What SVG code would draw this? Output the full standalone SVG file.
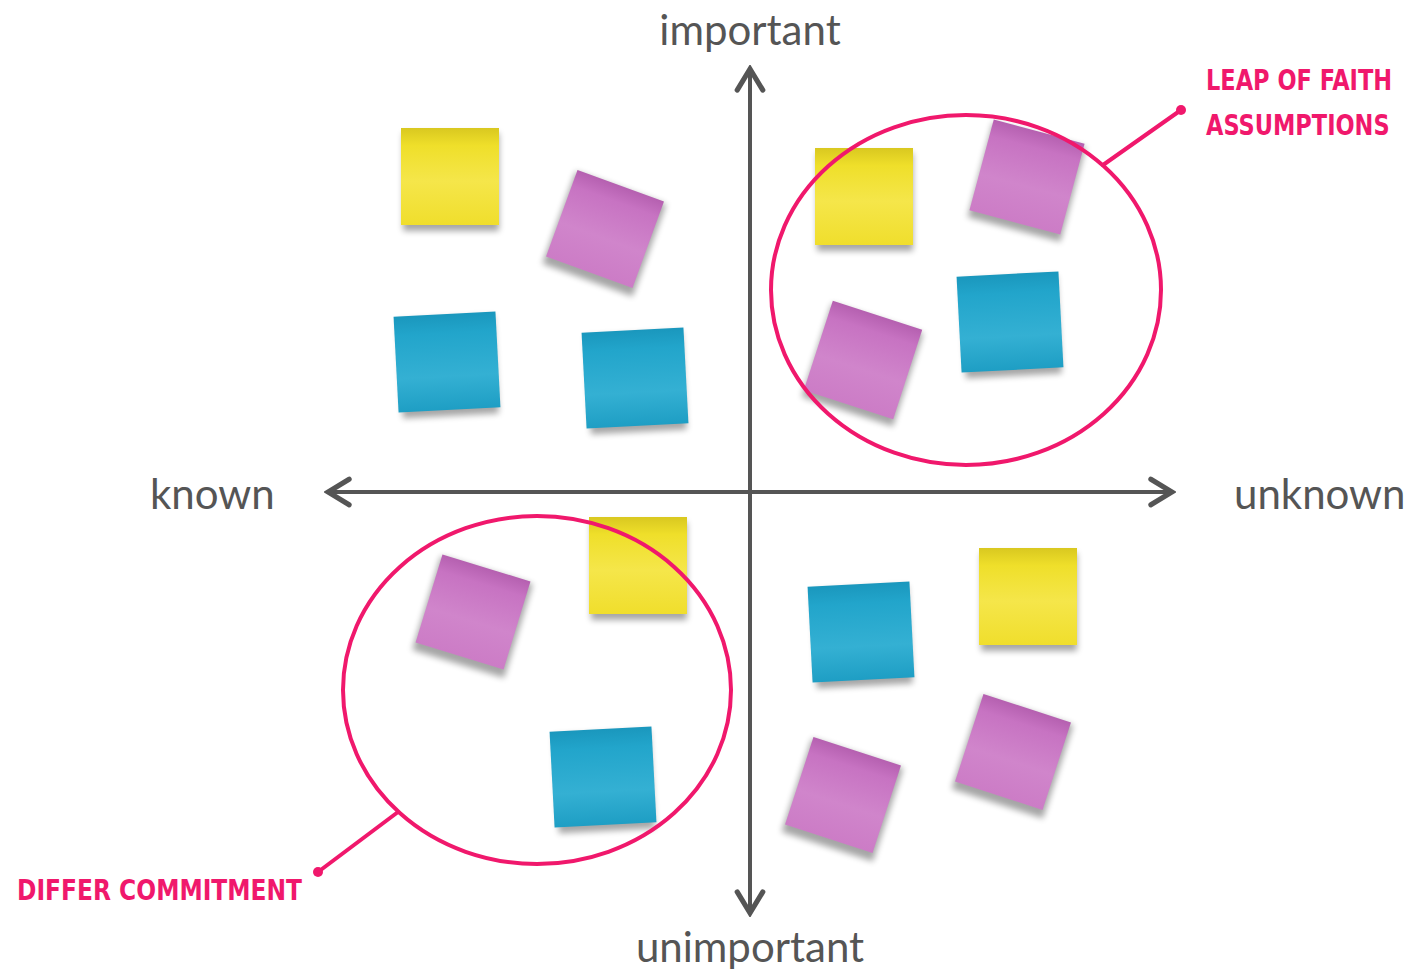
<svg xmlns="http://www.w3.org/2000/svg" width="1408" height="973" viewBox="0 0 1408 973">
<style>
.lbl{font-family:Lato,"Open Sans",sans-serif;font-size:42px;fill:#555}
.hand{font-family:"DejaVu Sans Condensed","DejaVu Sans",sans-serif;font-weight:bold;font-size:25px;fill:#f0186c}
.axis{stroke:#555;stroke-width:4;fill:none}
.ring{stroke:#f0186c;stroke-width:4;fill:none}
.lead{stroke:#f0186c;stroke-width:4;stroke-linecap:round}
.y{fill:url(#gy)}
.p{fill:url(#gp)}
.b{fill:url(#gb)}
.sh{fill:#000;opacity:0.35;filter:url(#blur)}
</style>
<defs>
<filter id="blur" x="-30%" y="-30%" width="160%" height="160%"><feGaussianBlur stdDeviation="3"/></filter>
<linearGradient id="gy" x1="0" y1="0" x2="0" y2="1"><stop offset="0" stop-color="#d9c820"/><stop offset="0.18" stop-color="#efdf2a"/><stop offset="0.55" stop-color="#f5e64a"/><stop offset="1" stop-color="#f0de2c"/></linearGradient>
<linearGradient id="gp" x1="0" y1="0" x2="0" y2="1"><stop offset="0" stop-color="#b560b0"/><stop offset="0.18" stop-color="#c773c2"/><stop offset="0.6" stop-color="#d085cb"/><stop offset="1" stop-color="#cc7cc6"/></linearGradient>
<linearGradient id="gb" x1="0" y1="0" x2="0" y2="1"><stop offset="0" stop-color="#1a97bd"/><stop offset="0.2" stop-color="#22a5cb"/><stop offset="0.65" stop-color="#34b0d3"/><stop offset="1" stop-color="#1e9ec4"/></linearGradient>
<marker id="ah" viewBox="0 0 10 10" refX="8.6" refY="5" markerWidth="8" markerHeight="8" orient="auto-start-reverse" markerUnits="strokeWidth"><path d="M2,1 L8.6,5 L2,9" fill="none" stroke="#555" stroke-width="1.6" stroke-linejoin="miter" stroke-linecap="round"/></marker>
<g id="note"><rect class="sh" x="-47" y="-44" width="96" height="98"/></g>
</defs>
<rect width="1408" height="973" fill="#fff"/>

<g id="connectors">
<line class="axis" x1="750" y1="69" x2="750" y2="913" marker-start="url(#ah)" marker-end="url(#ah)"/>
<line class="axis" x1="328" y1="492" x2="1172" y2="492" marker-start="url(#ah)" marker-end="url(#ah)"/>
<line class="lead" x1="1103" y1="165" x2="1181" y2="110"/>
<circle cx="1181" cy="110" r="5" fill="#f0186c"/>
<line class="lead" x1="398" y1="812" x2="318" y2="872"/>
<circle cx="318" cy="872" r="5" fill="#f0186c"/>
</g>

<g id="labels">
<text class="lbl" x="750" y="45" text-anchor="middle">important</text>
<text class="lbl" x="750" y="962" text-anchor="middle">unimportant</text>
<text class="lbl" x="150" y="509">known</text>
<text class="lbl" x="1234" y="509">unknown</text>
<text class="hand" transform="translate(1206,90) scale(1,1.15)">LEAP OF FAITH</text>
<text class="hand" transform="translate(1206,135) scale(1,1.15)">ASSUMPTIONS</text>
<text class="hand" transform="translate(17,900) scale(1,1.15)" textLength="285" lengthAdjust="spacingAndGlyphs">DIFFER COMMITMENT</text>
</g>

<g id="notes">
<g id="n1" transform="translate(450,177)"><use href="#note"/><rect class="y" x="-49" y="-49" width="98" height="97"/></g>
<g id="n2" transform="translate(605,229) rotate(20)"><use href="#note"/><rect class="p" x="-46" y="-46" width="92" height="92"/></g>
<g id="n3" transform="translate(447,362) rotate(-3)"><use href="#note"/><rect class="b" x="-51" y="-48" width="102" height="96"/></g>
<g id="n4" transform="translate(635,378) rotate(-3)"><use href="#note"/><rect class="b" x="-51" y="-48" width="102" height="96"/></g>
<g id="n5" transform="translate(864,197)"><use href="#note"/><rect class="y" x="-49" y="-49" width="98" height="97"/></g>
<g id="n6" transform="translate(1027,177) rotate(15)"><use href="#note"/><rect class="p" x="-47" y="-47" width="94" height="94"/></g>
<g id="n7" transform="translate(863,360) rotate(18)"><use href="#note"/><rect class="p" x="-47" y="-47" width="94" height="94"/></g>
<g id="n8" transform="translate(1010,322) rotate(-3)"><use href="#note"/><rect class="b" x="-51" y="-48" width="102" height="96"/></g>
<g id="n9" transform="translate(638,566)"><use href="#note"/><rect class="y" x="-49" y="-49" width="98" height="97"/></g>
<g id="n10" transform="translate(473,612) rotate(17)"><use href="#note"/><rect class="p" x="-46" y="-46" width="92" height="92"/></g>
<g id="n11" transform="translate(603,777) rotate(-3)"><use href="#note"/><rect class="b" x="-51" y="-48" width="102" height="96"/></g>
<g id="n12" transform="translate(861,632) rotate(-3)"><use href="#note"/><rect class="b" x="-51" y="-48" width="102" height="96"/></g>
<g id="n13" transform="translate(1028,597)"><use href="#note"/><rect class="y" x="-49" y="-49" width="98" height="97"/></g>
<g id="n14" transform="translate(1013,752) rotate(18)"><use href="#note"/><rect class="p" x="-46" y="-46" width="92" height="92"/></g>
<g id="n15" transform="translate(843,795) rotate(18)"><use href="#note"/><rect class="p" x="-46" y="-46" width="92" height="92"/></g>
</g>

<g id="rings">
<ellipse class="ring" cx="966" cy="290" rx="195" ry="175"/>
<ellipse class="ring" cx="537" cy="690" rx="194" ry="174"/>
</g>
</svg>
